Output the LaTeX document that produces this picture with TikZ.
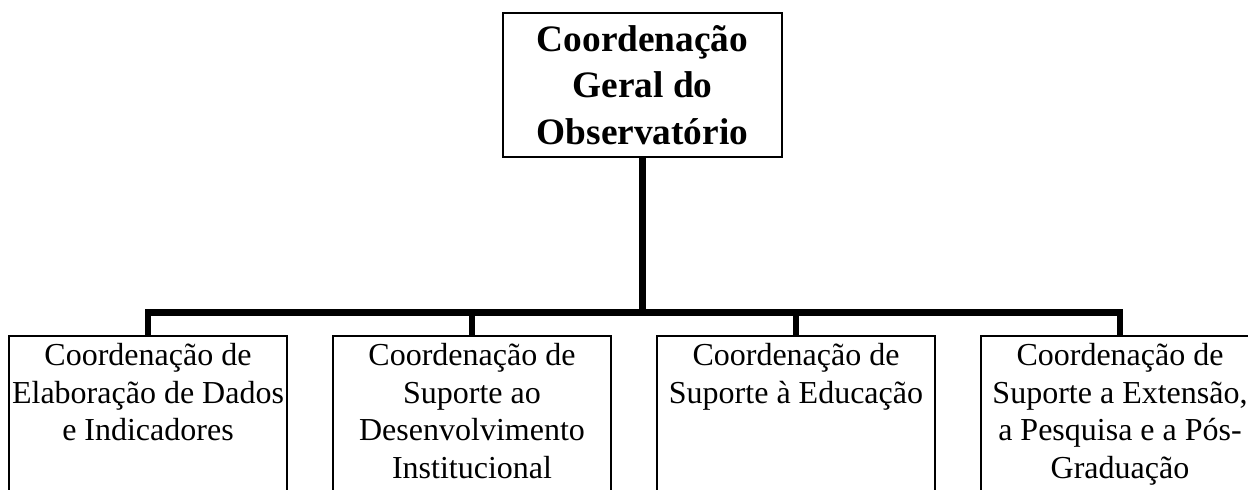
\documentclass[tikz,border=0pt]{standalone}
\usepackage{fontspec}
\setmainfont{Liberation Serif}
\usetikzlibrary{positioning}

\begin{document}
\begin{tikzpicture}[
    x=0.375pt, y=-0.375pt,
    node distance=16.5pt,
    head/.style={draw, line width=0.75pt, minimum width=104.6pt, minimum height=54pt, inner sep=0pt, align=center, font=\fontsize{14}{17.4}\selectfont\bfseries},
    unit/.style={draw, line width=0.75pt, minimum width=104.25pt, minimum height=75pt, inner sep=0pt, anchor=north},
    unittext/.style={align=center, inner sep=0pt, font=\fontsize{12}{14.05}\selectfont},
    link/.style={line width=2.6pt}
]
    \clip (0,0) rectangle (1248,489);

    \node[head] (geral) at (642.5,85) {Coordenação\\Geral do\\Observatório};

    \node[unit] (dados) at (148,335) {};
    \node[unit, right=of dados] (desenv) {};
    \node[unit, right=of desenv] (educ) {};
    \node[unit, right=of educ] (ext) {};

    \node[unittext, below=3pt of dados.north] (dadostxt) {Coordenação de\\Elaboração de Dados\\e Indicadores};
    \node[unittext, below=3pt of desenv.north] (desenvtxt) {Coordenação de\\Suporte ao\\Desenvolvimento\\Institucional};
    \node[unittext, below=3pt of educ.north] (eductxt) {Coordenação de\\Suporte à Educação};
    \node[unittext, below=3pt of ext.north] (exttxt) {Coordenação de\\Suporte a Extensão,\\a Pesquisa e a Pós-\\Graduação};

    \coordinate (bus) at (642.5,312.5);
    \draw[link] (geral) -- (bus);
    \draw[link] (dados.north) |- (bus) -| (ext.north);
    \draw[link] (desenv.north) -- (desenv.north |- bus);
    \draw[link] (educ.north) -- (educ.north |- bus);
\end{tikzpicture}
\end{document}
